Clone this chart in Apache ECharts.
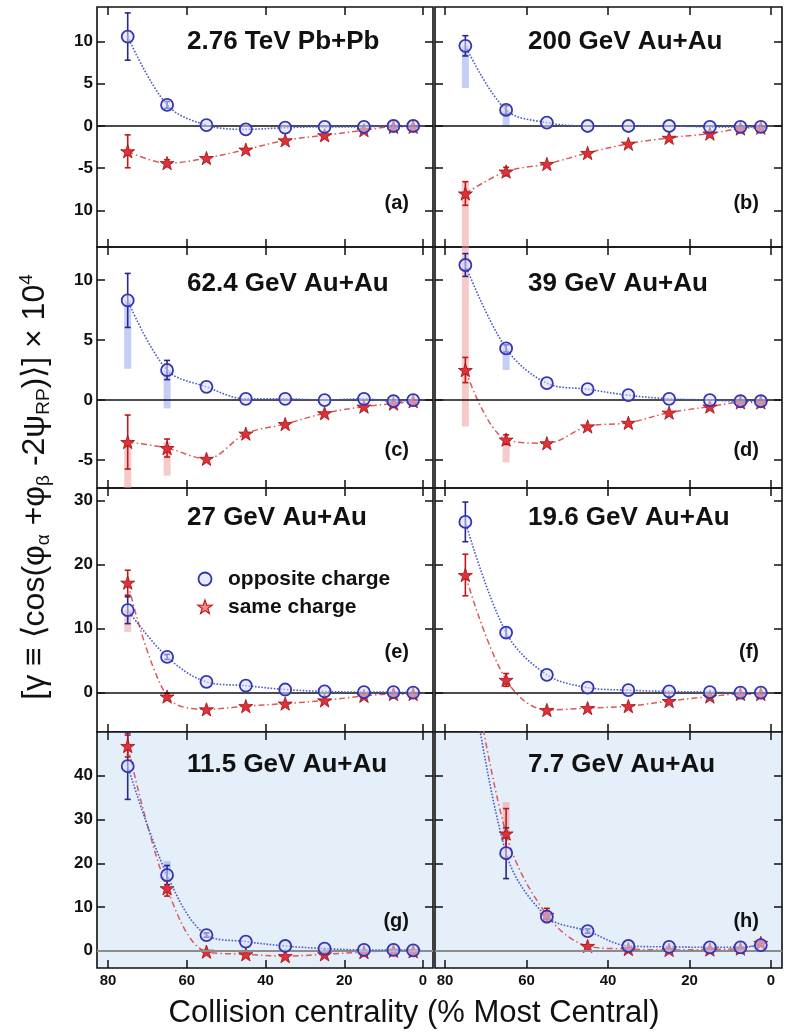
<!DOCTYPE html>
<html><head><meta charset="utf-8">
<script src="https://cdn.jsdelivr.net/npm/echarts@6/dist/echarts.min.js"></script>
<style>html,body{margin:0;padding:0;background:#fff}#c{width:789px;height:1034px}</style>
</head><body><div id="c"></div>
<script>
// centrality bin centres (% most central)
const centrality = [75, 65, 55, 45, 35, 25, 15, 7.5, 2.5];
const xTicks = [0, 20, 40, 60, 80];

// gamma x 10^4 : opposite-charge / same-charge
const opp_a  = [10.6, 2.5, 0.1, -0.4, -0.2, -0.1, -0.1, 0.0, 0.0];
const same_a = [-3.0, -4.4, -3.8, -2.8, -1.7, -1.1, -0.5, -0.1, -0.1];
const opp_b  = [9.5, 1.9, 0.4, 0.0, 0.0, 0.0, -0.1, -0.1, -0.1];
const same_b = [-8.0, -5.4, -4.5, -3.2, -2.1, -1.4, -0.9, -0.3, -0.2];
const opp_c  = [8.3, 2.5, 1.1, 0.1, 0.1, 0.0, 0.1, -0.1, 0.0];
const same_c = [-3.5, -4.0, -4.9, -2.8, -2.0, -1.1, -0.55, -0.3, -0.1];
const opp_d  = [11.25, 4.3, 1.4, 0.9, 0.4, 0.1, 0.0, -0.1, -0.1];
const same_d = [2.5, -3.3, -3.6, -2.2, -1.9, -1.05, -0.55, -0.2, -0.2];
const opp_e  = [12.9, 5.6, 1.7, 1.1, 0.5, 0.2, 0.1, 0.1, 0.0];
const same_e = [17.2, -0.6, -2.6, -2.1, -1.7, -1.2, -0.5, -0.2, -0.2];
const opp_f  = [26.7, 9.4, 2.8, 0.8, 0.4, 0.2, 0.1, 0.0, 0.0];
const same_f = [18.4, 2.0, -2.7, -2.4, -2.1, -1.3, -0.6, -0.2, -0.2];
const opp_g  = [42.2, 17.3, 3.6, 2.1, 1.1, 0.5, 0.2, 0.2, 0.1];
const same_g = [46.8, 14.3, -0.2, -0.8, -1.2, -0.8, -0.3, 0.0, -0.1];
const opp_h  = [72, 22.3, 7.8, 4.5, 1.1, 0.9, 0.8, 0.8, 1.3];
const same_h = [75, 26.8, 8.2, 1.1, 0.4, 0.2, 0.3, 0.5, 1.8];

// statistical errors (symmetric, 0 = hidden by marker)
const errOpp_a  = [2.8, 0.4, 0, 0, 0, 0, 0, 0, 0];
const errSame_a = [1.95, 0.4, 0, 0, 0, 0, 0, 0, 0];
const errOpp_b  = [1.2, 0.5, 0, 0, 0, 0, 0, 0, 0];
const errSame_b = [1.4, 0.5, 0, 0, 0, 0, 0, 0, 0];
const errOpp_c  = [2.25, 0.8, 0, 0, 0, 0, 0, 0, 0];
const errSame_c = [2.25, 0.75, 0, 0, 0, 0, 0, 0, 0];
const errOpp_d  = [0.95, 0.3, 0, 0, 0, 0, 0, 0, 0];
const errSame_d = [1.05, 0.4, 0, 0, 0, 0, 0, 0, 0];
const errOpp_e  = [2.1, 0.4, 0, 0, 0, 0, 0, 0, 0];
const errSame_e = [1.95, 0.5, 0, 0, 0, 0, 0, 0, 0];
const errOpp_f  = [3.1, 0.8, 0, 0, 0, 0, 0, 0, 0];
const errSame_f = [3.25, 1.0, 0, 0, 0, 0, 0, 0, 0];
const errOpp_g  = [7.6, 2.2, 0.5, 0, 0, 0, 0, 0, 0];
const errSame_g = [2.5, 1.8, 0, 0, 0, 0, 0, 0, 0];
const errOpp_h  = [0, 5.8, 1.3, 0.5, 0, 0, 0, 0, 0];
const errSame_h = [0, 5.7, 1.5, 0, 0, 0, 0, 0, 0];

// systematic bands [centrality, low, high]
const sysOpp_a = [];
const sysSame_a = [];
const sysOpp_b = [[75, 4.5, 9.5], [65, 0.1, 1.9]];
const sysSame_b = [[75, -16, -6.5]];
const sysOpp_c = [[75, 2.6, 8.3], [65, -0.7, 2.5]];
const sysSame_c = [[75, -9, -3.5], [65, -6.3, -3.5]];
const sysOpp_d = [[65, 2.5, 4.3]];
const sysSame_d = [[75, -2.2, 14], [65, -5.2, -3.3]];
const sysOpp_e = [];
const sysSame_e = [[75, 9.5, 13]];
const sysOpp_f = [];
const sysSame_f = [];
const sysOpp_g = [[65, 17.3, 20.5]];
const sysSame_g = [];
const sysOpp_h = [];
const sysSame_h = [[65, 26.8, 34]];

const titles = ['2.76 TeV Pb+Pb', '200 GeV Au+Au', '62.4 GeV Au+Au', '39 GeV Au+Au',
                '27 GeV Au+Au', '19.6 GeV Au+Au', '11.5 GeV Au+Au', '7.7 GeV Au+Au'];
const tags = ['(a)', '(b)', '(c)', '(d)', '(e)', '(f)', '(g)', '(h)'];
const yTicksByRow = [[-10, -5, 0, 5, 10], [-5, 0, 5, 10], [0, 10, 20, 30], [0, 10, 20, 30, 40]];
const yRangeByRow = [[-14.34, 14.1], [-7.33, 12.75], [-6.14, 32.0], [-3.93, 50.0]];

const opps = [opp_a, opp_b, opp_c, opp_d, opp_e, opp_f, opp_g, opp_h];
const sames = [same_a, same_b, same_c, same_d, same_e, same_f, same_g, same_h];
const eOpps = [errOpp_a, errOpp_b, errOpp_c, errOpp_d, errOpp_e, errOpp_f, errOpp_g, errOpp_h];
const eSames = [errSame_a, errSame_b, errSame_c, errSame_d, errSame_e, errSame_f, errSame_g, errSame_h];
const sOpps = [sysOpp_a, sysOpp_b, sysOpp_c, sysOpp_d, sysOpp_e, sysOpp_f, sysOpp_g, sysOpp_h];
const sSames = [sysSame_a, sysSame_b, sysSame_c, sysSame_d, sysSame_e, sysSame_f, sysSame_g, sysSame_h];

// layout
const colLeft = [97, 435], colWidth = [336, 347];
const rowTop = [7, 247, 488, 732], rowBottom = [247, 488, 732, 968];
const xRangeByCol = [[-2.54, 82.8], [-2.7, 82.45]];
const titleX = [187, 528], titleY = [42, 284, 518, 765];
const tagX = [409, 759], tagY = [203, 450, 652, 921];

const FONT = 'Liberation Sans';
const STAR_PTS = [[50,0],[61.8,35.1],[97.6,34.5],[69.1,56.7],[79.4,90.5],[50,70],[20.6,90.5],[30.9,56.7],[2.4,34.5],[38.2,35.1]];
const STAR = 'path://M' + STAR_PTS.map(p => p.join(',')).join(' L') + ' Z';
const BLUE = '#3434b4', RED = '#e0303a';

const grids = [], xAxes = [], yAxes = [], series = [], graphics = [];

function clampFn(r) { return v => Math.max(r[0] - 1, Math.min(r[1] + 1, v)); }
function txt(x, y, text, size, weight, align, extra) {
  return Object.assign({ type: 'text', x: x, y: y, z: 10,
    style: { text: text, fontFamily: FONT, fontSize: size, fontWeight: weight, fill: '#111',
      align: align, verticalAlign: 'middle' } }, extra || {});
}

for (let i = 0; i < 8; i++) {
  const r = Math.floor(i / 2), c = i % 2;
  const yr = yRangeByRow[r], xr = xRangeByCol[c];
  grids.push({
    left: colLeft[c], top: rowTop[r], width: colWidth[c], height: rowBottom[r] - rowTop[r],
    show: true, borderColor: '#111', borderWidth: 1.6,
    backgroundColor: r === 3 ? '#e5eff9' : 'transparent'
  });
  ['bottom', 'top'].forEach((pos, k) => {
    xAxes.push({
      gridIndex: i, type: 'value', inverse: true, min: xr[0], max: xr[1], position: pos,
      axisLine: { show: false, onZero: false }, splitLine: { show: false },
      axisTick: { show: true, inside: true, length: 8, lineStyle: { color: '#111', width: 1.5 }, customValues: xTicks },
      axisLabel: { show: r === 3 && k === 0, customValues: xTicks, fontSize: 15, fontWeight: 'bold',
        color: '#111', margin: 5, fontFamily: FONT }
    });
  });
  ['left', 'right'].forEach((pos, k) => {
    yAxes.push({
      gridIndex: i, type: 'value', min: yr[0], max: yr[1], position: pos,
      axisLine: { show: false, onZero: false }, splitLine: { show: false },
      axisTick: { show: true, inside: true, length: 8, lineStyle: { color: '#111', width: 1.5 }, customValues: yTicksByRow[r] },
      axisLabel: { show: c === 0 && k === 0, customValues: yTicksByRow[r], fontSize: 17, fontWeight: 'bold',
        color: '#111', margin: 4, fontFamily: FONT,
        formatter: v => (v === -10 ? '10' : String(v)) }
    });
  });
  const xi = 2 * i, yi = 2 * i;
  const clampY = clampFn(yr);

  const bandRender = (params, api) => {
    const x = api.value(0);
    const lo = clampY(api.value(1)), hi = clampY(api.value(2));
    const p1 = api.coord([x, hi]), p2 = api.coord([x, lo]);
    return { type: 'rect', shape: { x: p1[0] - 3.5, y: p1[1], width: 7, height: p2[1] - p1[1] },
      style: { fill: api.visual('color') } };
  };
  series.push({
    type: 'custom', xAxisIndex: xi, yAxisIndex: yi, clip: true, z: 1, silent: true,
    itemStyle: { color: 'rgba(150,165,235,0.55)' }, renderItem: bandRender, data: sOpps[i],
    markLine: { silent: true, symbol: 'none', label: { show: false },
      lineStyle: { color: r === 3 ? '#8c8c8c' : '#111', width: r === 3 ? 2 : 1.5, type: 'solid' },
      data: [{ yAxis: 0 }] }
  });
  series.push({
    type: 'custom', xAxisIndex: xi, yAxisIndex: yi, clip: true, z: 1, silent: true,
    itemStyle: { color: 'rgba(240,150,150,0.5)' }, renderItem: bandRender, data: sSames[i]
  });

  const errRender = (params, api) => {
    const x = api.value(0), v = api.value(1), e = api.value(2);
    if (!e) return null;
    const hiV = v + e, loV = v - e;
    const p1 = api.coord([x, clampY(hiV)]), p2 = api.coord([x, clampY(loV)]);
    const col = api.visual('color');
    const ch = [{ type: 'line', shape: { x1: p1[0], y1: p1[1], x2: p2[0], y2: p2[1] }, style: { stroke: col, lineWidth: 1.6 } }];
    if (hiV < yr[1]) ch.push({ type: 'line', shape: { x1: p1[0] - 3, y1: p1[1], x2: p1[0] + 3, y2: p1[1] }, style: { stroke: col, lineWidth: 1.6 } });
    if (loV > yr[0]) ch.push({ type: 'line', shape: { x1: p2[0] - 3, y1: p2[1], x2: p2[0] + 3, y2: p2[1] }, style: { stroke: col, lineWidth: 1.6 } });
    return { type: 'group', children: ch };
  };
  series.push({
    type: 'custom', xAxisIndex: xi, yAxisIndex: yi, clip: true, z: 3, silent: true,
    itemStyle: { color: '#28288a' }, renderItem: errRender,
    data: centrality.map((x, j) => [x, opps[i][j], eOpps[i][j]])
  });
  series.push({
    type: 'custom', xAxisIndex: xi, yAxisIndex: yi, clip: true, z: 3, silent: true,
    itemStyle: { color: '#c01818' }, renderItem: errRender,
    data: centrality.map((x, j) => [x, sames[i][j], eSames[i][j]])
  });

  series.push({
    name: 'opposite charge', type: 'line', xAxisIndex: xi, yAxisIndex: yi, z: 5, smooth: 0.35,
    clip: true, symbol: 'circle', symbolSize: 12,
    itemStyle: { color: 'rgba(215,220,250,0.55)', borderColor: BLUE, borderWidth: 1.8 },
    lineStyle: { color: '#4a5ac8', type: 'dotted', width: 1.6 },
    data: centrality.map((x, j) => [x, opps[i][j]])
  });
  series.push({
    name: 'same charge', type: 'line', xAxisIndex: xi, yAxisIndex: yi, z: 4, smooth: 0.35,
    clip: true, symbol: STAR, symbolSize: 14, symbolKeepAspect: true,
    itemStyle: { color: RED, borderColor: '#9a1010', borderWidth: 0.8 },
    lineStyle: { color: '#d85a5a', type: [6, 3, 1.5, 3], width: 1.5 },
    data: centrality.map((x, j) => [x, sames[i][j]])
  });

  graphics.push(txt(titleX[c], titleY[r], titles[i], 26, 'bold', 'left'));
  graphics.push(txt(tagX[c], tagY[r], tags[i], 20, 'bold', 'right'));
}

// legend (panel e)
graphics.push({ type: 'circle', shape: { cx: 205, cy: 579, r: 6.5 }, z: 10,
  style: { fill: 'rgba(215,220,250,0.55)', stroke: BLUE, lineWidth: 1.8 } });
graphics.push({ type: 'polygon', z: 10,
  shape: { points: STAR_PTS.map(p => [197.5 + p[0] * 0.15, 600 + p[1] * 0.15]) },
  style: { fill: '#f08a8a', stroke: '#c02020', lineWidth: 1.2 } });
graphics.push(txt(228, 579, 'opposite charge', 21, 'bold', 'left'));
graphics.push(txt(228, 607, 'same charge', 21, 'bold', 'left'));

// axis titles
graphics.push(txt(414, 1013, 'Collision centrality (% Most Central)', 31, 'normal', 'center'));
graphics.push({ type: 'text', x: 35, y: 487, rotation: Math.PI / 2, z: 10,
  style: {
    text: '{m|[γ ≡ ⟨cos(φ}{s|α}{m| +φ}{s|β}{m| -2ψ}{s|RP}{m|)⟩] × 10}{p|4}',
    align: 'center', verticalAlign: 'middle',
    rich: {
      m: { fontSize: 32, fontFamily: FONT, fill: '#111', lineHeight: 36, verticalAlign: 'middle' },
      s: { fontSize: 19, fontFamily: FONT, fill: '#111', lineHeight: 19, verticalAlign: 'bottom' },
      p: { fontSize: 19, fontFamily: FONT, fill: '#111', lineHeight: 19, verticalAlign: 'top' }
    }
  } });

const chart = echarts.init(document.getElementById('c'), null, { renderer: 'canvas' });
chart.setOption({
  animation: false,
  grid: grids, xAxis: xAxes, yAxis: yAxes, series: series, graphic: graphics
});
</script></body></html>
